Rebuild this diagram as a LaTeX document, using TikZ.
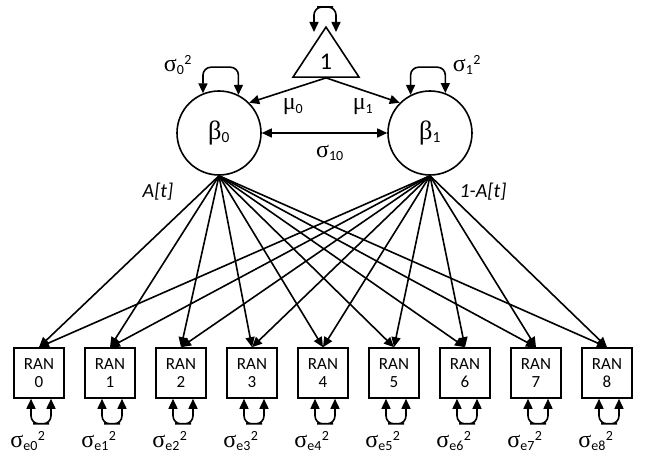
\documentclass[tikz,border=0pt]{standalone}
\usepackage{fontspec}
\setmainfont{Carlito}
\newfontfamily\greekfont[Scale=1.2]{Liberation Serif}
\usetikzlibrary{
  	positioning,
  	arrows.meta,
  	shapes.geometric,
  	calc
  }
\newcommand\gk[1]{{\greekfont #1}}
\tikzstyle{latent}=[circle,draw,line width=1.6pt,minimum size=84pt,inner sep=0pt,font=\fontsize{22}{24}\selectfont]
\tikzstyle{ranbox}=[rectangle,draw,line width=1.6pt,minimum width=50pt,minimum height=50pt,inner sep=0pt,align=center,font=\fontsize{17}{18}\selectfont]
\tikzstyle{constant}=[isosceles triangle,isosceles triangle stretches,shape border rotate=90,draw,line width=1.6pt,minimum width=66pt,minimum height=50pt,inner sep=0pt]
\tikzstyle{arr}=[-{Triangle[length=10pt,width=9pt]},line width=1.6pt]
\tikzstyle{dbl}=[{Triangle[length=10pt,width=9pt]}-{Triangle[length=10pt,width=9pt]},line width=1.6pt]
\tikzstyle{varloop}=[dbl,rounded corners=8pt]
\tikzstyle{lbl}=[inner sep=1pt,font=\fontsize{20}{22}\selectfont]

\begin{document}
\begin{tikzpicture}[x=1pt,y=1pt]
  	\useasboundingbox (0,0) rectangle (645,463);
  	\node[latent] (b0) at (219,330) {\gk{β}\textsubscript{0}};
  	\node[latent] (b1) at (430,330) {\gk{β}\textsubscript{1}};
  	\node[constant, anchor=apex] (tri) at (326,438) {};
  	\node[font=\fontsize{24}{26}\selectfont] (one) at (326,401) {1};
  	\node[lbl] (s0) at (178,398) {\gk{σ}\textsubscript{0}\textsuperscript{2}};
  	\node[lbl] (s1) at (467,398) {\gk{σ}\textsubscript{1}\textsuperscript{2}};
  	\node[lbl] (m0) at (293,356) {\gk{μ}\textsubscript{0}};
  	\node[lbl] (m1) at (363,356) {\gk{μ}\textsubscript{1}};
  	\node[lbl] (s10) at (330,310) {\gk{σ}\textsubscript{10}};
  	\node[lbl, font=\fontsize{20}{22}\selectfont\itshape] (w0) at (158,271) {A[t]};
  	\node[lbl, font=\fontsize{20}{22}\selectfont\itshape] (w1) at (483,271) {1-A[t]};
  	\draw[arr] (tri.lower side) -- (b0.45);
  	\draw[arr] (tri.lower side) -- (b1.135);
  	\draw[dbl] (b0) -- (b1);
  	\draw[varloop] (b0.112) |- ($(b0.north)+(0,23)$) -| (b0.63);
  	\draw[varloop] (b1.117) |- ($(b1.north)+(0,23)$) -| (b1.69);
  	\draw[varloop] ($(tri.apex)+(-12,-7)$) |- ($(tri.apex)+(-1,18)$) -| ($(tri.apex)+(10,-7)$);
  	\foreach \i in {0,...,8} {
  		\node[ranbox] (ran\i) at (39+71*\i,90) {RAN\\\i};
  		\node[lbl] (e\i) at (28+71*\i,22) {\gk{σ}\textsubscript{e\i}\textsuperscript{2}};
  		\draw[varloop] ($(ran\i.south)+(-8,0)$) |- ($(ran\i.south)+(2,-25)$) -| ($(ran\i.south)+(12,0)$);
  		\draw[arr] (b0.south) -- (ran\i.north);
  		\draw[arr] (b1.south) -- (ran\i.north);
  	}
  \end{tikzpicture}
\end{document}
